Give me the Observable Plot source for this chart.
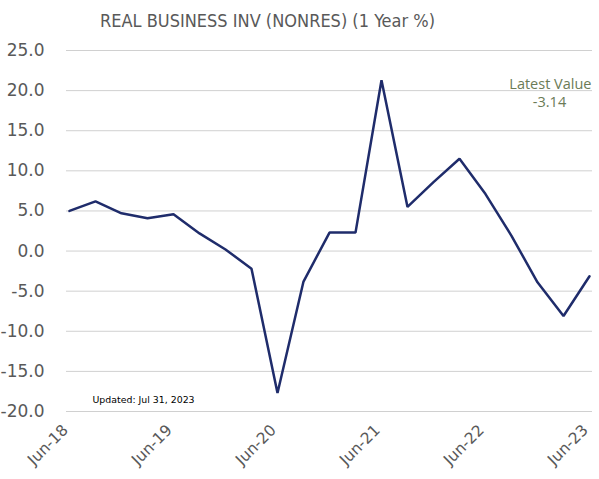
<!DOCTYPE html>
<html>
<head>
<meta charset="utf-8">
<script src="https://cdn.jsdelivr.net/npm/d3@7"></script>
<script src="https://cdn.jsdelivr.net/npm/@observablehq/plot@0.6"></script>
<style>
  html, body { margin: 0; padding: 0; background: #fff; }
  #chart svg { display: block; }
</style>
</head>
<body>
<div id="chart"></div>
<script>
const quarters = ["Jun-18","Sep-18","Dec-18","Mar-19","Jun-19","Sep-19","Dec-19","Mar-20","Jun-20","Sep-20","Dec-20","Mar-21","Jun-21","Sep-21","Dec-21","Mar-22","Jun-22","Sep-22","Dec-22","Mar-23","Jun-23"];
const values = [5.0, 6.2, 4.7, 4.1, 4.6, 2.2, 0.2, -2.2, -17.7, -3.8, 2.3, 2.3, 21.3, 5.5, 8.6, 11.5, 7.1, 1.9, -3.9, -8.1, -3.14];
const xTicks = ["Jun-18","Jun-19","Jun-20","Jun-21","Jun-22","Jun-23"];
const yTicks = [-20, -15, -10, -5, 0, 5, 10, 15, 20, 25];
const title = "REAL BUSINESS INV (NONRES) (1 Year %)";
const latestLabel = "Latest Value";
const latestValue = "-3.14";
const updated = "Updated: Jul 31, 2023";

const data = quarters.map((q, i) => ({q, v: values[i]}));
const font = "DejaVu Sans, Verdana, sans-serif";

const plot = Plot.plot({
  width: 599,
  height: 479,
  marginTop: 50,
  marginBottom: 68,
  marginLeft: 66,
  marginRight: 7,
  style: {fontFamily: font, background: "#fff", overflow: "visible"},
  x: {type: "point", domain: quarters, padding: 0},
  y: {domain: [-20, 25]},
  marks: [
    Plot.gridY(yTicks, {stroke: "#d0d0d0", strokeOpacity: 1, strokeWidth: 1}),
    Plot.axisY(yTicks, {tickSize: 0, tickPadding: 22, fontSize: 17, fill: "#595959", tickFormat: d => d.toFixed(1), label: null}),
    Plot.axisX(xTicks, {tickSize: 0, tickPadding: 16, tickRotate: -45, fontSize: 15.5, dx: -4, fill: "#595959", label: null}),
    Plot.line(data, {x: "q", y: "v", stroke: "#1f2c6b", strokeWidth: 2.5, strokeLinejoin: "miter"}),
    Plot.text([title], {frameAnchor: "top-left", dx: -66 + 267, dy: -36, fontSize: 18, fill: "#595959", textAnchor: "middle", fontFamily: "DejaVu Sans Condensed, sans-serif"}),
    Plot.text([latestLabel], {frameAnchor: "top-right", dx: -1, dy: 28, fontSize: 14.5, fill: "#6b7b56", textAnchor: "end", fontFamily: "Open Sans, sans-serif"}),
    Plot.text([latestValue], {frameAnchor: "top-right", dx: -43, dy: 46, fontSize: 14.5, fill: "#6b7b56", textAnchor: "middle", fontFamily: "Open Sans, sans-serif"}),
    Plot.text([updated], {frameAnchor: "bottom-left", dx: 26, dy: -9, fontSize: 9.4, fill: "#000", textAnchor: "start"})
  ]
});
document.getElementById("chart").appendChild(plot);
</script>
</body>
</html>
